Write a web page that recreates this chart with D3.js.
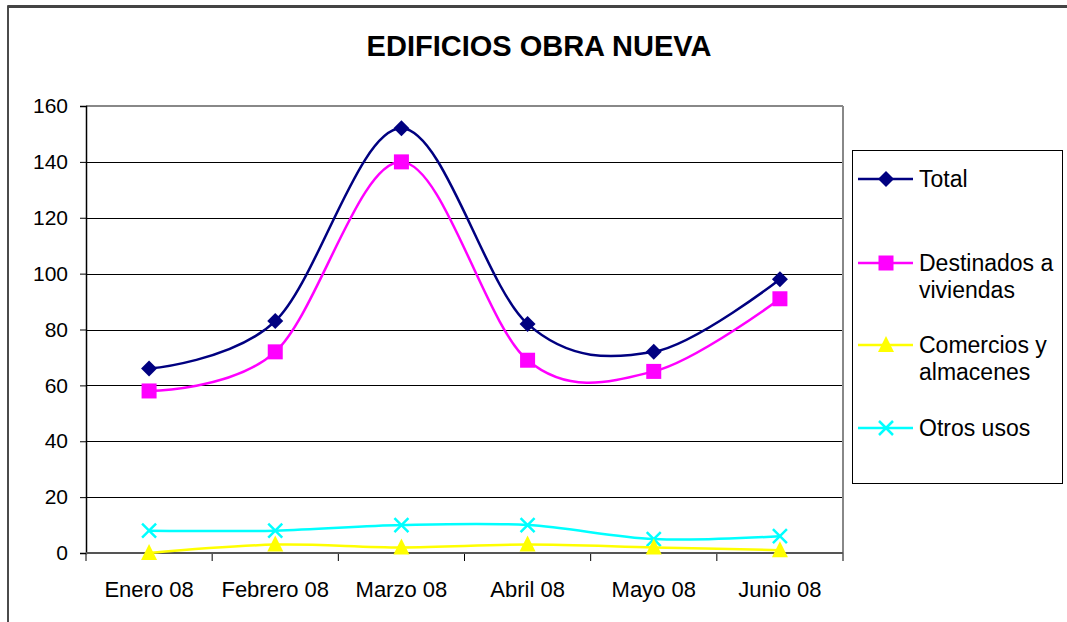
<!DOCTYPE html>
<html>
<head>
<meta charset="utf-8">
<script src="https://cdn.jsdelivr.net/npm/d3@7"></script>
<style>
  html, body { margin: 0; padding: 0; background: #fff; }
  svg { display: block; font-family: "Liberation Sans", Arial, sans-serif; }
</style>
</head>
<body>
<svg id="chart" width="1067" height="622"></svg>
<script>
// Edificios obra nueva — líneas suavizadas por mes (estilo Excel)
const months = ["Enero 08", "Febrero 08", "Marzo 08", "Abril 08", "Mayo 08", "Junio 08"];
const total = [66, 83, 152, 82, 72, 98];
const viviendas = [58, 72, 140, 69, 65, 91];
const comercios = [0, 3, 2, 3, 2, 1];
const otros = [8, 8, 10, 10, 5, 6];
const yTicks = [0, 20, 40, 60, 80, 100, 120, 140, 160];

const series = [
  { name: ["Total"], values: total, color: "#000080", marker: "diamond" },
  { name: ["Destinados a", "viviendas"], values: viviendas, color: "#FF00FF", marker: "square" },
  { name: ["Comercios y", "almacenes"], values: comercios, color: "#FFFF00", marker: "triangle" },
  { name: ["Otros usos"], values: otros, color: "#00FFFF", marker: "cross" },
];

const svg = d3.select("#chart");
const plot = { left: 86, right: 843, top: 106, bottom: 553 };

// marco exterior del gráfico (se sale por la derecha y abajo)
svg.append("rect").attr("x", 8).attr("y", 6).attr("width", 1100).attr("height", 700)
  .attr("fill", "none").attr("stroke", "#111").attr("stroke-width", 1.5);
svg.append("line").attr("x1", 8).attr("x2", 1067).attr("y1", 6.5).attr("y2", 6.5)
  .attr("stroke", "#444").attr("stroke-width", 3);

svg.append("text").attr("x", 539).attr("y", 56).attr("text-anchor", "middle")
  .style("font-size", "29px").style("font-weight", "bold").text("EDIFICIOS OBRA NUEVA");

const x = d3.scaleBand().domain(months).range([plot.left, plot.right]).padding(0);
const cx = (i) => x(months[i]) + x.bandwidth() / 2;
const y = d3.scaleLinear().domain([0, 160]).range([plot.bottom, plot.top]);

// líneas de cuadrícula
svg.append("g").selectAll("line").data(yTicks.filter((t) => t > 0 && t < 160)).join("line")
  .attr("x1", plot.left).attr("x2", plot.right)
  .attr("y1", (d) => Math.round(y(d)) + 0.5).attr("y2", (d) => Math.round(y(d)) + 0.5)
  .attr("stroke", "#000").attr("stroke-width", 1);

// bordes del área de trazado: arriba y derecha grises
svg.append("line").attr("x1", plot.left).attr("x2", plot.right).attr("y1", plot.top).attr("y2", plot.top)
  .attr("stroke", "#888").attr("stroke-width", 2);
svg.append("line").attr("x1", plot.right).attr("x2", plot.right).attr("y1", plot.top).attr("y2", plot.bottom)
  .attr("stroke", "#888").attr("stroke-width", 2);

// eje Y
const yAxis = svg.append("g").attr("transform", `translate(${plot.left},0)`)
  .call(d3.axisLeft(y).tickValues(yTicks).tickSize(6).tickPadding(12));
yAxis.select(".domain").attr("stroke", "#000").attr("stroke-width", 1.5);
yAxis.selectAll(".tick line").attr("stroke", "#000");
yAxis.selectAll("text").style("font-size", "21px").style("font-family", "Liberation Sans, Arial, sans-serif")
  .attr("fill", "#000");

// eje X: etiquetas centradas, marcas en los límites de categoría
const xAxis = svg.append("g").attr("transform", `translate(0,${plot.bottom})`)
  .call(d3.axisBottom(x).tickSize(0).tickPadding(28));
xAxis.select(".domain").remove();
xAxis.selectAll("text").style("font-size", "22px").style("font-family", "Liberation Sans, Arial, sans-serif")
  .attr("fill", "#000");
const bounds = months.map((m) => x(m)).concat([plot.right]);
svg.append("g").selectAll("line").data(bounds).join("line")
  .attr("x1", (d) => d).attr("x2", (d) => d).attr("y1", plot.bottom).attr("y2", plot.bottom + 8)
  .attr("stroke", "#000").attr("stroke-width", 1);
svg.append("line").attr("x1", plot.left).attr("x2", plot.right).attr("y1", plot.bottom).attr("y2", plot.bottom)
  .attr("stroke", "#555").attr("stroke-width", 2);

function drawMarker(g, type, px, py, color) {
  if (type === "diamond") {
    g.append("path").attr("d", `M${px},${py - 8}L${px + 8},${py}L${px},${py + 8}L${px - 8},${py}Z`).attr("fill", color);
  } else if (type === "square") {
    g.append("rect").attr("x", px - 7.5).attr("y", py - 7.5).attr("width", 15).attr("height", 15).attr("fill", color);
  } else if (type === "triangle") {
    g.append("path").attr("d", `M${px},${py - 9}L${px + 8},${py + 7}L${px - 8},${py + 7}Z`).attr("fill", color);
  } else {
    g.append("path").attr("d", `M${px - 7},${py - 7}L${px + 7},${py + 7}M${px - 7},${py + 7}L${px + 7},${py - 7}`)
      .attr("stroke", color).attr("stroke-width", 2.5).attr("fill", "none");
  }
}

const line = d3.line().x((d, i) => cx(i)).y((d) => y(d)).curve(d3.curveCardinal.tension(0));

// series dibujadas de la última a la primera para que Total quede arriba
series.slice().reverse().forEach((s) => {
  const g = svg.append("g");
  g.append("path").attr("d", line(s.values)).attr("fill", "none")
    .attr("stroke", s.color).attr("stroke-width", 2.5);
  s.values.forEach((v, i) => drawMarker(g, s.marker, cx(i), y(v), s.color));
});

// leyenda
svg.append("rect").attr("x", 852.5).attr("y", 150.5).attr("width", 210).attr("height", 333)
  .attr("fill", "#fff").attr("stroke", "#000").attr("stroke-width", 1);
const legendY = [179, 263, 345, 428];
series.forEach((s, i) => {
  const ly = legendY[i];
  const g = svg.append("g");
  g.append("line").attr("x1", 858).attr("x2", 913).attr("y1", ly).attr("y2", ly)
    .attr("stroke", s.color).attr("stroke-width", 2.5);
  drawMarker(g, s.marker, 886, ly, s.color);
  s.name.forEach((t, j) => {
    g.append("text").attr("x", 919).attr("y", ly + 8 + j * 27)
      .style("font-size", "23px").attr("fill", "#000").text(t);
  });
});
</script>
</body>
</html>
